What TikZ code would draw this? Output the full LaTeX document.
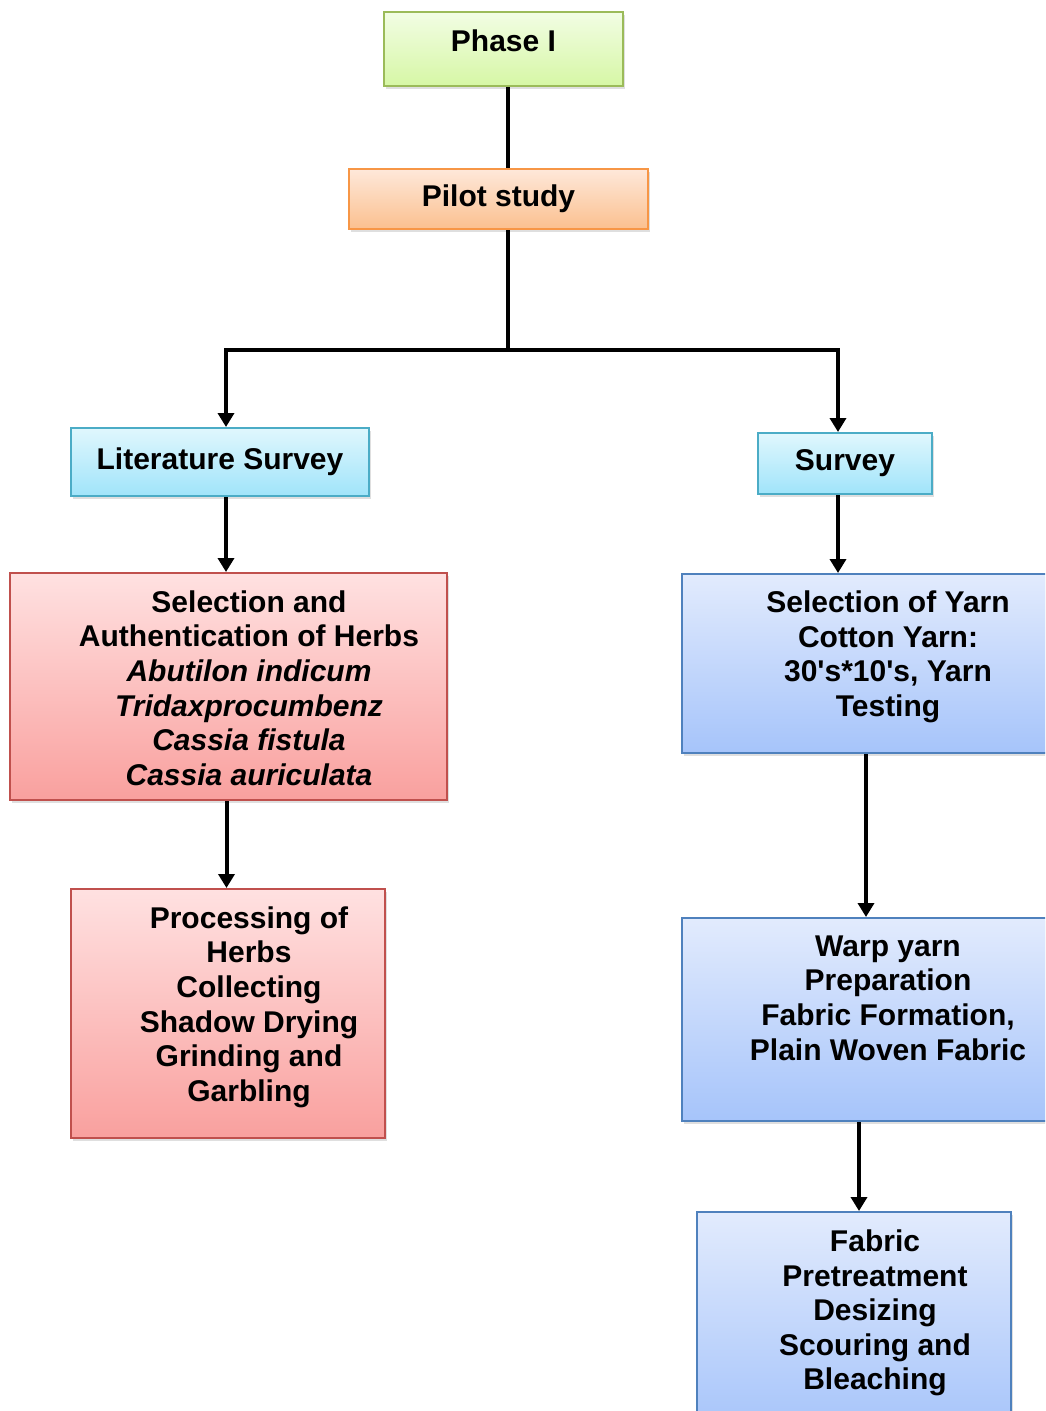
\documentclass[tikz,border=0pt]{standalone}
\usepackage{fontspec}
\setmainfont{Liberation Sans}[Ligatures=TeXOff]
\usetikzlibrary{arrows.meta,shadows}
\definecolor{phaseline}{RGB}{155,187,89}
\definecolor{phasetop}{RGB}{242,253,228}
\definecolor{phasebot}{RGB}{214,247,165}
\definecolor{pilotline}{RGB}{247,150,70}
\definecolor{pilottop}{RGB}{254,232,218}
\definecolor{pilotbot}{RGB}{251,192,143}
\definecolor{surveyline}{RGB}{75,172,198}
\definecolor{surveytop}{RGB}{224,247,253}
\definecolor{surveybot}{RGB}{160,228,250}
\definecolor{herbline}{RGB}{192,80,77}
\definecolor{herbtop}{RGB}{255,225,225}
\definecolor{herbbot}{RGB}{249,160,158}
\definecolor{yarnline}{RGB}{79,129,189}
\definecolor{yarntop}{RGB}{226,235,253}
\definecolor{yarnbot}{RGB}{166,196,250}
\newcommand{\boxfont}{\fontsize{30}{34.6}\selectfont\bfseries}

\begin{document}
\begin{tikzpicture}[x=1pt,y=-1pt,
  stagebox/.style={line width=2pt,inner sep=0pt,anchor=north west,font=\boxfont,
    drop shadow={shadow xshift=2pt,shadow yshift=-3pt,opacity=.25}},
  phasebox/.style={stagebox,draw=phaseline,top color=phasetop,bottom color=phasebot},
  pilotbox/.style={stagebox,draw=pilotline,top color=pilottop,bottom color=pilotbot},
  surveybox/.style={stagebox,draw=surveyline,top color=surveytop,bottom color=surveybot},
  herbbox/.style={stagebox,draw=herbline,top color=herbtop,bottom color=herbbot},
  yarnbox/.style={stagebox,draw=yarnline,top color=yarntop,bottom color=yarnbot},
  boxtext/.style={font=\boxfont,align=center,inner sep=0pt},
  link/.style={line width=4pt},
  flow/.style={line width=4pt,-{Triangle[length=14pt,width=16pt]}}]
\path[use as bounding box,clip] (0,0) rectangle (1045,1411);

% top of the chart
\node[phasebox,minimum width=239pt,minimum height=74pt,text depth=17pt] (phase) at (383,11) {Phase I};
\node[pilotbox,minimum width=299pt,minimum height=60pt] (pilot) at (348,168) {Pilot study};
\coordinate (split) at (508,350);

% left branch: herbs
\node[surveybox,minimum width=298pt,minimum height=68pt] (lit) at (70,427) {Literature Survey};
\node[herbbox,minimum width=437pt,minimum height=227pt] (herbsel) at (9,572) {};
\node[boxtext] (herbseltext) at (249,688) {Selection and\\Authentication of Herbs\\\itshape Abutilon indicum\\\itshape Tridaxprocumbenz\\\itshape Cassia fistula\\\itshape Cassia auriculata};
\node[herbbox,minimum width=314pt,minimum height=249pt] (proc) at (70,888) {};
\node[boxtext] (proctext) at (249,1007) {Processing of\\Herbs\\Collecting\\Shadow Drying\\Grinding and\\Garbling};

% right branch: yarn and fabric
\node[surveybox,minimum width=174pt,minimum height=61pt] (survey) at (757,432) {Survey};
\node[yarnbox,minimum width=368pt,minimum height=179pt] (yarnsel) at (681,573) {};
\node[boxtext] (yarnseltext) at (888,657) {Selection of Yarn\\Cotton Yarn:\\30's*10's, Yarn\\Testing};
\node[yarnbox,minimum width=368pt,minimum height=203pt] (warp) at (681,917) {};
\node[boxtext] (warptext) at (888,998) {Warp yarn\\Preparation\\Fabric Formation,\\Plain Woven Fabric};
\node[yarnbox,minimum width=314pt,minimum height=219pt] (fabric) at (696,1211) {};
\node[boxtext] (fabrictext) at (875,1313) {Fabric\\Pretreatment\\Desizing\\Scouring and\\Bleaching};

% connectors
\draw[link] (phase.south -| split) -- (pilot.north -| split);
\draw[link] (pilot.south -| split) -- (split);
\draw[flow] (split) -| ([xshift=6pt]lit.north);
\draw[flow] (split) -| ([xshift=-7pt]survey.north);
\draw[flow] ([xshift=6pt]lit.south) -- ([xshift=6pt]lit.south |- herbsel.north);
\draw[flow] ([xshift=-2pt]herbsel.south) -- ([xshift=-2pt]herbsel.south |- proc.north);
\draw[flow] ([xshift=-7pt]survey.south) -- ([xshift=-7pt]survey.south |- yarnsel.north);
\draw[flow] (yarnsel.south) -- (warp.north);
\draw[flow] ([xshift=5pt]fabric.north |- warp.south) -- ([xshift=5pt]fabric.north);
\end{tikzpicture}
\end{document}
